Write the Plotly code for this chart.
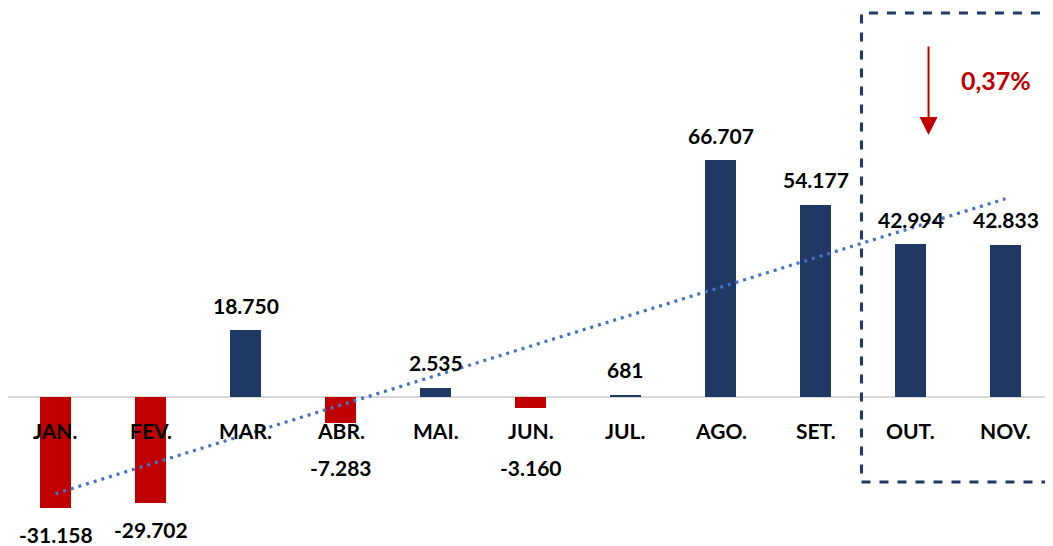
import numpy as np
import plotly.graph_objects as go

months = ["JAN.", "FEV.", "MAR.", "ABR.", "MAI.", "JUN.", "JUL.", "AGO.", "SET.", "OUT.", "NOV."]
values = [-31158, -29702, 18750, -7283, 2535, -3160, 681, 66707, 54177, 42994, 42833]
value_labels = ["-31.158", "-29.702", "18.750", "-7.283", "2.535", "-3.160", "681",
                "66.707", "54.177", "42.994", "42.833"]
highlight_text = "0,37%"

NAVY = "#203864"
RED = "#C00000"
TREND = "#4472C4"
FONT = "Lato"

W, H = 1045, 538
y_min, y_max = -41944, 109504

x_idx = np.arange(len(values))
colors = [NAVY if v >= 0 else RED for v in values]

fig = go.Figure()
fig.add_trace(go.Bar(x=x_idx, y=values, marker_color=colors, width=0.32,
                     marker_line_width=0, hoverinfo="skip"))

# linear trendline
slope, intercept = np.polyfit(x_idx, values, 1)
trend = slope * x_idx + intercept
fig.add_trace(go.Scatter(x=x_idx, y=trend, mode="lines",
                         line=dict(color=TREND, width=3.2, dash="3px,5px"), hoverinfo="skip"))

annotations = []
neg_floor = -12105
LBL = dict(family=FONT, size=21, color="#000000")
for i, (v, lab, m) in enumerate(zip(values, value_labels, months)):
    annotations.append(dict(x=i, y=0, text=f"<b>{m}</b>", showarrow=False, yshift=-33, font=LBL))
    if v >= 0:
        annotations.append(dict(x=i, y=v, text=f"<b>{lab}</b>", showarrow=False, yshift=25, font=LBL))
    else:
        annotations.append(dict(x=i, y=min(v, neg_floor), text=f"<b>{lab}</b>", showarrow=False,
                                yshift=-27, font=LBL))

# arrow
annotations.append(dict(x=9.19, y=73753, ax=9.19, ay=99088, xref="x", yref="y",
                        axref="x", ayref="y", text="", showarrow=True, arrowhead=2,
                        arrowsize=1.8, arrowwidth=2, arrowcolor=RED))
annotations.append(dict(x=9.905, y=89236, text=f"<b>{highlight_text}</b>", showarrow=False,
                        font=dict(family=FONT, size=25, color=RED)))

fig.add_shape(type="rect", x0=8.484, x1=10.46, y0=-23928, y1=108096, xref="x", yref="y",
              line=dict(color=NAVY, width=3, dash="dash"), fillcolor="rgba(0,0,0,0)")

fig.update_layout(
    width=W, height=H,
    margin=dict(l=0, r=0, t=0, b=0),
    paper_bgcolor="white", plot_bgcolor="white",
    showlegend=False,
    annotations=annotations,
    xaxis=dict(range=[-0.5, 10.5], showticklabels=False, showgrid=False, zeroline=False,
               showline=False, fixedrange=True),
    yaxis=dict(range=[y_min, y_max], showticklabels=False, showgrid=False, zeroline=True,
               zerolinecolor="#D9D9D9", zerolinewidth=2, showline=False),
    bargap=0,
)

fig.write_html("out.html")
